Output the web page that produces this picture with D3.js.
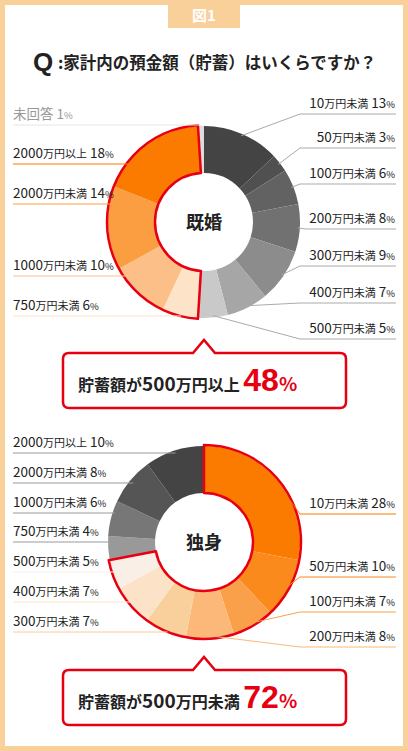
<!DOCTYPE html>
<html><head><meta charset="utf-8">
<script src="https://cdn.jsdelivr.net/npm/d3@7"></script>
<style>body{margin:0;background:#fff}svg{display:block;font-family:"Noto Sans CJK JP",sans-serif}</style>
</head><body><svg id="c" width="408" height="751"></svg>
<script>
const marriedCats=["10万円未満","50万円未満","100万円未満","200万円未満","300万円未満","400万円未満","500万円未満","750万円未満","1000万円未満","2000万円未満","2000万円以上","未回答"];
const marriedVals=[13,3,6,8,9,7,5,6,10,14,18,1];
const marriedColors=["#444","#505050","#626262","#717171","#8c8c8c","#a6a6a6","#c9c9c9","#fde3c8","#fcbf88","#fb9e42","#fb7b00","#ddd"];
const singleCats=["10万円未満","50万円未満","100万円未満","200万円未満","300万円未満","400万円未満","500万円未満","750万円未満","1000万円未満","2000万円未満","2000万円以上"];
const singleVals=[28,10,7,8,7,7,5,4,6,8,10];
const singleColors=["#fb7a00","#fb8a1c","#fba04a","#fbb878","#f9cf9c","#fce3c8","#f9efe6","#999","#777","#555","#444"];
const svg=d3.select("#c");
svg.append("rect").attr("width",408).attr("height",751).attr("fill","#f9cf9a");
svg.append("rect").attr("x",5).attr("y",5).attr("width",398).attr("height",741).attr("fill","#fff");
svg.append("rect").attr("x",168).attr("y",0).attr("width",72).attr("height",28).attr("fill","#f9cf9a");
svg.append("text").attr("x",204).attr("y",21).attr("text-anchor","middle").attr("fill","#fff").attr("font-size",15).attr("font-weight","bold").text("図1");
svg.append("text").attr("x",33).attr("y",71).attr("font-size",26).attr("font-weight","900").attr("font-family","Arial,sans-serif").attr("fill","#222").text("Q");
svg.append("text").attr("x",58).attr("y",69).attr("font-size",16.5).attr("font-weight","bold").attr("fill","#222").text(":家計内の預金額（貯蓄）はいくらですか？");

function label(x,y,anchor,name,val,color){
  const t=svg.append("text").attr("x",x).attr("y",y).attr("text-anchor",anchor).attr("font-size",13.5).attr("fill",color);
  t.append("tspan").text(name.replace(/万円.*/,""));
  t.append("tspan").attr("font-size",11).text(name.match(/万円.*/)?name.match(/万円.*/)[0]:"");
  t.append("tspan").text(" "+val);
  t.append("tspan").attr("font-size",9.5).text("%");
}
function donut(cx,cy,vals,cats,colors,hl,title,rightIdx,rightY,leftIdx,leftY,rightLineCol,leftLineCol,leftTextCol){
  const pie=d3.pie().sort(null)(vals);
  const R=96,r=49;
  const arc=d3.arc().innerRadius(r).outerRadius(R);
  const g=svg.append("g").attr("transform",`translate(${cx},${cy})`);
  rightIdx.forEach((i,k)=>{
    const a=(pie[i].startAngle+pie[i].endAngle)/2, p=[cx+Math.sin(a)*(R-2),cy-Math.cos(a)*(R-2)];
    const y=rightY[k]+6;
    const lx=Math.max(p[0]+8,300);
    svg.append("polyline").attr("points",`${p[0]},${p[1]} ${lx},${y} 396,${y}`).attr("fill","none").attr("stroke",rightLineCol(i)).attr("stroke-width",1);
  });
  leftIdx.forEach((i,k)=>{
    const a=(pie[i].startAngle+pie[i].endAngle)/2, p=[cx+Math.sin(a)*(R-4),cy-Math.cos(a)*(R-4)];
    const y=leftY[k]+6;
    svg.append("polyline").attr("points",`13,${y} ${p[0]},${y}`).attr("fill","none").attr("stroke",leftLineCol(i)).attr("stroke-width",1);
  });
  g.selectAll("path.s").data(pie).join("path").attr("d",arc).attr("fill",(d,i)=>colors[i]);
  const h=d3.arc().innerRadius(r).outerRadius(R+1)({startAngle:pie[hl[0]].startAngle,endAngle:pie[hl[1]].endAngle});
  g.append("path").attr("d",h).attr("fill","none").attr("stroke","#e60012").attr("stroke-width",2.5).attr("stroke-linejoin","round");
  g.append("text").attr("y",7).attr("text-anchor","middle").attr("font-size",18).attr("font-weight","bold").attr("fill","#222").text(title);
  rightIdx.forEach((i,k)=>label(395,rightY[k],"end",cats[i],vals[i],"#222"));
  leftIdx.forEach((i,k)=>label(13,leftY[k],"start",cats[i],vals[i],leftTextCol(i)));
}
donut(204,222,marriedVals,marriedCats,marriedColors,[7,10],"既婚",
  [0,1,2,3,4,5,6],[108,142,178,223,260,297,333],[11,10,9,8,7],[119,158,198,270,310],
  i=>"#aaa",i=>i==11?"#e6e6e6":marriedColors[i],i=>i==11?"#999":"#222");
donut(204,542,singleVals,singleCats,singleColors,[0,6],"独身",
  [0,1,2,3],[508,571,606,641],[10,9,8,7,6,5,4],[447,477,507,536,566,596,626],
  i=>singleColors[i],i=>i>=7?"#999":singleColors[i],i=>"#222");

function callout(y,tip,txt,pct){
  const x0=63,x1=346,y1=y+55,cx=204;
  svg.append("path").attr("d",`M${x0+6},${y} L${cx-11},${y} L${cx},${tip} L${cx+11},${y} L${x1-6},${y} Q${x1},${y} ${x1},${y+6} L${x1},${y1-6} Q${x1},${y1} ${x1-6},${y1} L${x0+6},${y1} Q${x0},${y1} ${x0},${y1-6} L${x0},${y+6} Q${x0},${y} ${x0+6},${y} Z`)
   .attr("fill","#fff").attr("stroke","#e60012").attr("stroke-width",2.5);
  const t=svg.append("text").attr("x",78).attr("y",y+38).attr("font-weight","bold").attr("fill","#222");
  t.append("tspan").attr("font-size",16).text("貯蓄額が");
  t.append("tspan").attr("font-size",19).text(txt.slice(0,3));
  t.append("tspan").attr("font-size",16).text(txt.slice(3)+" ");
  t.append("tspan").attr("font-size",32).attr("fill","#e60012").attr("font-family","Arial,sans-serif").text(pct);
  t.append("tspan").attr("font-size",19).attr("fill","#e60012").text("%");
}
callout(353,340,"500万円以上","48");
callout(670,657,"500万円未満","72");
</script></body></html>
